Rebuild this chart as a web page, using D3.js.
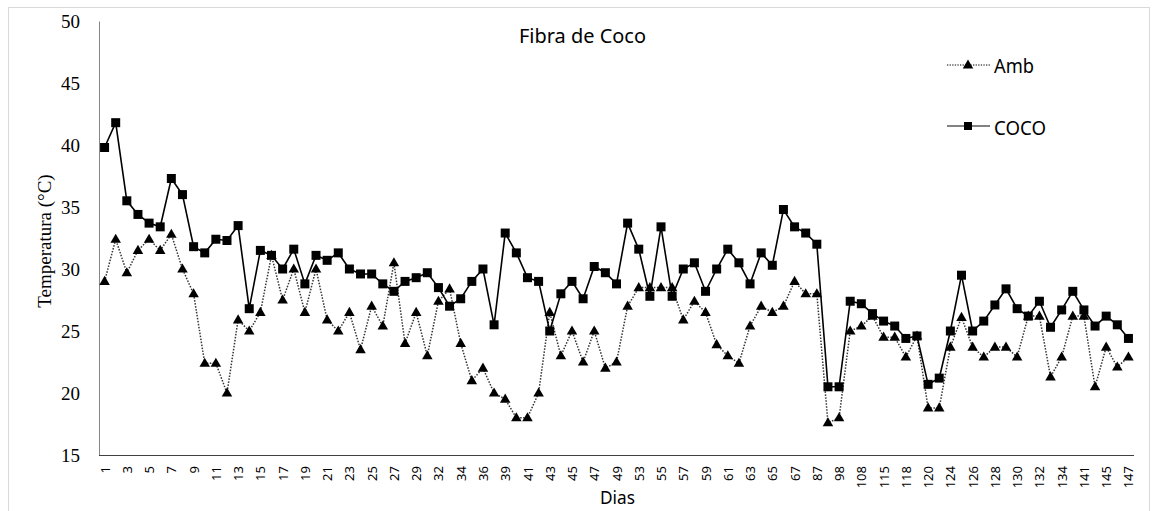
<!DOCTYPE html>
<html>
<head>
<meta charset="utf-8">
<script src="https://cdn.jsdelivr.net/npm/d3@7"></script>
<style>
  html, body { margin: 0; padding: 0; background: #fff; }
  svg { display: block; }
</style>
</head>
<body>
<svg id="chart" width="1157" height="511"></svg>
<script>
// ---------- DATA ----------
const categories = ["1","2","3","4","5","6","7","8","9","10","11","12","13","14","15","16","17","18","19","20",
  "21","22","23","24","25","26","27","28","29","30","32","33","34","35","36","37","39","40","41","42",
  "43","44","45","46","47","48","49","51","53","54","55","56","57","58","59","60","61","62","63","64",
  "65","66","67","77","87","92","98","103","108","112","115","117","118","119","120","122","124","125","126","127",
  "128","129","130","131","132","133","134","138","141","143","145","146","147"];

const xTickLabels = ["1","3","5","7","9","11","13","15","17","19","21","23","25","27","29","32","34","36","39","41",
  "43","45","47","49","53","55","57","59","61","63","65","67","87","98","108","115","118","120","124","126",
  "128","130","132","134","141","145","147"];

const amb = [29.0, 32.4, 29.7, 31.5, 32.4, 31.5, 32.8, 30.0, 28.0, 22.4,
  22.4, 20.0, 25.9, 25.0, 26.5, 31.1, 27.5, 30.0, 26.5, 30.0,
  25.9, 25.0, 26.5, 23.5, 27.0, 25.4, 30.5, 24.0, 26.5, 23.0,
  27.4, 28.4, 24.0, 21.0, 22.0, 20.0, 19.5, 18.0, 18.0, 20.0,
  26.5, 23.0, 25.0, 22.5, 25.0, 22.0, 22.5, 27.0, 28.5, 28.5,
  28.5, 28.5, 25.9, 27.4, 26.5, 23.9, 23.0, 22.4, 25.4, 27.0,
  26.5, 27.0, 29.0, 28.0, 28.0, 17.6, 18.0, 25.0, 25.4, 26.2,
  24.5, 24.5, 22.9, 24.6, 18.8, 18.8, 23.7, 26.1, 23.7, 22.9,
  23.7, 23.7, 22.9, 26.2, 26.2, 21.3, 22.9, 26.2, 26.2, 20.5,
  23.7, 22.1, 22.9];

const coco = [39.8, 41.8, 35.5, 34.4, 33.7, 33.4, 37.3, 36.0, 31.8, 31.3,
  32.4, 32.3, 33.5, 26.8, 31.5, 31.1, 30.0, 31.6, 28.8, 31.1,
  30.7, 31.3, 30.0, 29.6, 29.6, 28.8, 28.2, 29.0, 29.3, 29.7,
  28.5, 27.0, 27.6, 29.0, 30.0, 25.5, 32.9, 31.3, 29.3, 29.0,
  25.0, 28.0, 29.0, 27.6, 30.2, 29.7, 28.8, 33.7, 31.6, 27.8,
  33.4, 27.8, 30.0, 30.5, 28.2, 30.0, 31.6, 30.5, 28.8, 31.3,
  30.3, 34.8, 33.4, 32.9, 32.0, 20.5, 20.5, 27.4, 27.2, 26.4,
  25.8, 25.4, 24.4, 24.6, 20.7, 21.2, 25.0, 29.5, 25.0, 25.8,
  27.1, 28.4, 26.8, 26.2, 27.4, 25.3, 26.7, 28.2, 26.7, 25.4,
  26.2, 25.5, 24.4];

const yTicks = [15, 20, 25, 30, 35, 40, 45, 50];
const seriesNames = ["Amb", "COCO"];
const titleText = "Fibra de Coco";
const xTitle = "Dias";
const yTitle = "Temperatura (°C)";

// ---------- LAYOUT ----------
const svg = d3.select("#chart");
const plot = { left: 99, right: 1134, top: 21, bottom: 455 };

const x = d3.scalePoint().domain(categories).range([plot.left, plot.right]).padding(0.5);
const y = d3.scaleLinear().domain([15, 50]).range([plot.bottom, plot.top]);

// outer chart border
svg.append("rect")
  .attr("x", 8.5).attr("y", 7.5).attr("width", 1141).attr("height", 530)
  .attr("fill", "none").attr("stroke", "#d9d9d9").attr("stroke-width", 1);

// y axis
const yAxis = svg.append("g")
  .attr("transform", `translate(${plot.left},0)`)
  .call(d3.axisLeft(y).tickValues(yTicks).tickSize(0).tickPadding(19));
yAxis.select(".domain").attr("stroke", "#868686").attr("stroke-width", 1);
yAxis.selectAll("text")
  .attr("font-family", "'Liberation Serif', 'Times New Roman', serif")
  .attr("font-size", 19).attr("fill", "#000");

// x axis
const xAxis = svg.append("g")
  .attr("transform", `translate(0,${plot.bottom})`)
  .call(d3.axisBottom(x).tickValues(xTickLabels).tickSize(0));
xAxis.select(".domain").attr("stroke", "#404040").attr("stroke-width", 1.2)
  .attr("d", `M${plot.left},0.5H${plot.right}`);
xAxis.selectAll("text")
  .attr("font-family", "'Noto Sans', sans-serif")
  .attr("font-size", 13).attr("fill", "#000")
  .attr("transform", "rotate(-90)")
  .attr("text-anchor", "end")
  .attr("x", -11).attr("y", 0).attr("dy", "0.35em");

// axis titles
svg.append("text")
  .attr("transform", "translate(51,241) rotate(-90)")
  .attr("text-anchor", "middle")
  .attr("font-family", "'Liberation Serif', 'Times New Roman', serif")
  .attr("font-size", 19).attr("fill", "#000")
  .text(yTitle);

svg.append("text")
  .attr("x", 600).attr("y", 504)
  .attr("font-family", "'Noto Sans', sans-serif")
  .attr("font-size", 18).attr("fill", "#000")
  .attr("textLength", 35).attr("lengthAdjust", "spacingAndGlyphs")
  .text(xTitle);

// chart title
svg.append("text")
  .attr("x", 519).attr("y", 43)
  .attr("font-family", "'Noto Sans', sans-serif")
  .attr("font-size", 20).attr("fill", "#000")
  .attr("textLength", 127).attr("lengthAdjust", "spacingAndGlyphs")
  .text(titleText);

// ---------- SERIES ----------
const line = d3.line().x((d, i) => x(categories[i])).y(d => y(d));

svg.append("path").datum(amb)
  .attr("d", line).attr("fill", "none")
  .attr("stroke", "#333").attr("stroke-width", 1.5)
  .attr("stroke-dasharray", "1.5,1.5");

svg.append("path").datum(coco)
  .attr("d", line).attr("fill", "none")
  .attr("stroke", "#000").attr("stroke-width", 1.6);

const tri = d3.symbol().type(d3.symbolTriangle).size(48);
const sq = d3.symbol().type(d3.symbolSquare).size(81);

svg.append("g").selectAll("path").data(amb).join("path")
  .attr("d", tri)
  .attr("transform", (d, i) => `translate(${x(categories[i])},${y(d) + 0.5})`)
  .attr("fill", "#000");

svg.append("g").selectAll("path").data(coco).join("path")
  .attr("d", sq)
  .attr("transform", (d, i) => `translate(${x(categories[i])},${y(d)})`)
  .attr("fill", "#000");

// ---------- LEGEND ----------
const legend = svg.append("g");
const legY = [65, 126];
legend.append("line").attr("x1", 947).attr("x2", 990).attr("y1", legY[0]).attr("y2", legY[0])
  .attr("stroke", "#555").attr("stroke-width", 1.3).attr("stroke-dasharray", "1.3,1.3");
legend.append("path").attr("d", tri).attr("transform", `translate(968,${legY[0] + 0.5})`).attr("fill", "#000");
legend.append("line").attr("x1", 947).attr("x2", 990).attr("y1", legY[1]).attr("y2", legY[1])
  .attr("stroke", "#595959").attr("stroke-width", 1.3);
legend.append("path").attr("d", d3.symbol().type(d3.symbolSquare).size(64)).attr("transform", `translate(968,${legY[1]})`).attr("fill", "#000");

legend.append("text").attr("x", 994).attr("y", legY[0] + 7.5)
  .attr("font-family", "'Noto Sans', sans-serif").attr("font-size", 20).attr("fill", "#000")
  .attr("textLength", 40).attr("lengthAdjust", "spacingAndGlyphs")
  .text(seriesNames[0]);
legend.append("text").attr("x", 994).attr("y", legY[1] + 8.5)
  .attr("font-family", "'Noto Sans', sans-serif").attr("font-size", 20).attr("fill", "#000")
  .attr("textLength", 52).attr("lengthAdjust", "spacingAndGlyphs")
  .text(seriesNames[1]);
</script>
</body>
</html>
